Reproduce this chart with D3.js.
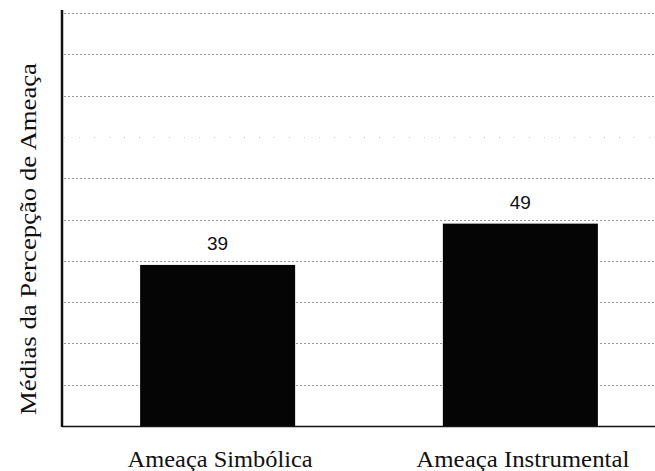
<!DOCTYPE html>
<html>
<head>
<meta charset="utf-8">
<script src="https://cdn.jsdelivr.net/npm/d3@7"></script>
<style>
  html, body { margin: 0; padding: 0; background: #fff; }
  svg { display: block; }
</style>
</head>
<body>
<svg id="chart" width="655" height="471"></svg>
<script>
// Data
const categories = ["Ameaça Simbólica", "Ameaça Instrumental"];
const values = [39, 49];
const valueLabels = ["39", "49"];
const yLabel = "Médias da Percepção de Ameaça";
const yDomain = [0, 100];

const svg = d3.select("#chart");
const W = 655, H = 471;
const plot = { left: 62, right: 676, top: 13, bottom: 426 };

const x = d3.scaleBand()
  .domain(categories)
  .range([plot.left, plot.right])
  .paddingInner(0.488)
  .paddingOuter(0.258);

const y = d3.scaleLinear()
  .domain(yDomain)
  .range([plot.bottom, plot.top]);

// Gridlines (dotted)
const gridTicks = y.ticks(10).filter(t => t > 0);
svg.append("g")
  .selectAll("line")
  .data(gridTicks)
  .join("line")
  .attr("x1", plot.left + 2)
  .attr("x2", W)
  .attr("y1", d => Math.round(y(d)) + 0.5)
  .attr("y2", d => Math.round(y(d)) + 0.5)
  .attr("stroke", d => d === 70 ? "#c8c8c8" : "#9a9a9a")
  .attr("stroke-width", 1)
  .attr("stroke-dasharray", d => d === 70 ? "1,14" : "2,2");

// Bars
svg.append("g")
  .selectAll("rect")
  .data(categories)
  .join("rect")
  .attr("x", d => x(d))
  .attr("y", (d, i) => y(values[i]))
  .attr("width", x.bandwidth())
  .attr("height", (d, i) => y(0) - y(values[i]))
  .attr("fill", "#050505");

// Value labels
svg.append("g")
  .selectAll("text")
  .data(categories)
  .join("text")
  .attr("x", d => x(d) + x.bandwidth() / 2)
  .attr("y", (d, i) => y(values[i]) - 15)
  .attr("text-anchor", "middle")
  .attr("font-family", "'Liberation Sans', Arial, sans-serif")
  .attr("font-size", 19)
  .attr("fill", "#111")
  .text((d, i) => valueLabels[i]);

// X axis (baseline)
svg.append("line")
  .attr("x1", plot.left)
  .attr("x2", W)
  .attr("y1", y(0) + 0.5)
  .attr("y2", y(0) + 0.5)
  .attr("stroke", "#111")
  .attr("stroke-width", 1.6);

// Y axis (thick left line)
svg.append("line")
  .attr("x1", plot.left)
  .attr("x2", plot.left)
  .attr("y1", plot.top - 3)
  .attr("y2", y(0) + 1)
  .attr("stroke", "#111")
  .attr("stroke-width", 2.5);

// Category labels
const catWidths = [185, 213];
svg.append("g")
  .selectAll("text")
  .data(categories)
  .join("text")
  .attr("x", d => x(d) + x.bandwidth() / 2 + 2.5)
  .attr("y", 467)
  .attr("text-anchor", "middle")
  .attr("font-family", "'Liberation Serif', 'Times New Roman', serif")
  .attr("font-size", 23)
  .attr("fill", "#111")
  .attr("textLength", (d, i) => catWidths[i])
  .attr("lengthAdjust", "spacingAndGlyphs")
  .text(d => d);

// Y axis title
svg.append("text")
  .attr("transform", `translate(36, ${(63 + 415) / 2}) rotate(-90)`)
  .attr("text-anchor", "middle")
  .attr("font-family", "'Liberation Serif', 'Times New Roman', serif")
  .attr("font-size", 23)
  .attr("fill", "#111")
  .attr("textLength", 352)
  .attr("lengthAdjust", "spacingAndGlyphs")
  .text(yLabel);
</script>
</body>
</html>
